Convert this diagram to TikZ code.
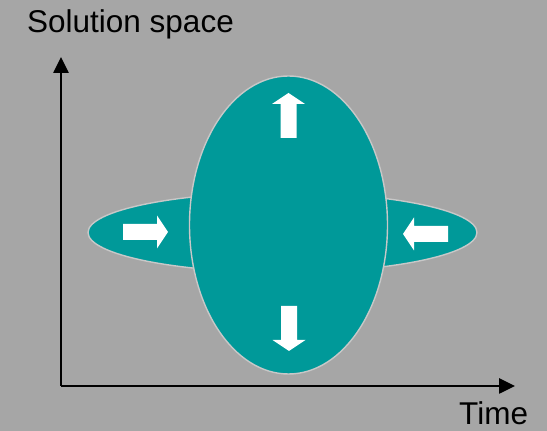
\documentclass[tikz,border=0pt]{standalone}
\usepackage{fontspec}
\setmainfont{Liberation Sans}
\usetikzlibrary{arrows.meta,shapes.geometric}
\definecolor{slate}{RGB}{166,166,166}
\definecolor{teal}{RGB}{0,153,153}
\definecolor{rim}{RGB}{200,200,200}
\tikzset{
  axis/.style={-{Triangle[length=16pt,width=15pt]},line width=2.6pt,draw=black},
  blob/.style={ellipse,fill=teal,draw=rim,line width=1.4pt,inner sep=0pt},
  label/.style={font=\fontsize{31.5}{36}\selectfont,inner sep=0pt},
  % white block arrow, tail at origin, pointing along +x
  pics/blockarrow/.style={code={
    \fill[white] (0,-8) -- (34,-8) -- (34,-16.5) -- (45,0) -- (34,16.5) -- (34,8) -- (0,8) -- cycle;
  }},
}
\begin{document}
\begin{tikzpicture}[x=1pt,y=1pt]
  \fill[slate] (0,0) rectangle (547,431);
  \useasboundingbox (0,0) rectangle (547,431);
  % axes
  \coordinate (origin) at (61,45);
  \coordinate (ytip) at (61,374);
  \coordinate (xtip) at (515,45);
  \draw[axis] (origin) -- (ytip);
  \draw[axis] (origin) -- (xtip);
  \node[label,anchor=base west] (ylab) at (27,398) {Solution space};
  \node[label,anchor=base west] (xlab) at (459,6) {Time};
  % solution space
  \node[blob,minimum width=389pt,minimum height=80pt] (wide) at (282.5,198.5) {};
  \node[blob,minimum width=198pt,minimum height=298pt] (tall) at (288.5,206) {};
  \pic at (123,199) {blockarrow};
  \pic[rotate=180] at (448,197) {blockarrow};
  \pic[rotate=90] at (288.5,293) {blockarrow};
  \pic[rotate=-90] at (289,125) {blockarrow};
\end{tikzpicture}
\end{document}
